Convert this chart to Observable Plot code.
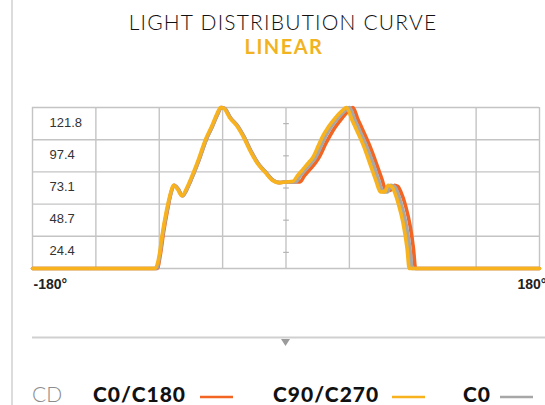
<!DOCTYPE html>
<html>
<head>
<meta charset="utf-8">
<script src="https://cdn.jsdelivr.net/npm/d3@7"></script>
<script src="https://cdn.jsdelivr.net/npm/@observablehq/plot@0.6"></script>
<style>
  html, body { margin: 0; padding: 0; background: #fff; }
  #wrap { position: relative; width: 545px; height: 405px; overflow: hidden; }
  #wrap > svg { position: absolute; left: 0; top: 0; }
</style>
</head>
<body>
<div id="wrap"></div>
<script>
// ---- data ----
const title = "LIGHT DISTRIBUTION CURVE";
const subtitle = "LINEAR";
const unitLabel = "CD";
const seriesNames = ["C0/C180", "C90/C270", "C0"];
const seriesColors = ["#f26522", "#f7b21e", "#a7a7a7"];

const yTicks = [0, 24.4, 48.7, 73.1, 97.4, 121.8];
const yTickLabels = ["", "24.4", "48.7", "73.1", "97.4", "121.8"];
const xTicks = [-180, -135, -90, -45, 0, 45, 90, 135, 180];
const xEndLabels = ["-180°", "180°"];

// C0/C180 (orange)
const c0c180Angle = [-180, -91.5, -89, -87, -84, -81.5, -79.5, -76.5, -73.5, -69.5, -65.5, -61.5, -56.5, -52.5, -48.5, -46, -43.5, -39.5, -34.5, -29.5, -24.5, -19.5, -14.5, -9.5, -4.5, 0, 5, 10, 13, 17, 21, 24, 28, 31, 35, 40, 44, 47.5, 51, 54, 59, 64, 68, 71, 74, 77, 79.5, 81.5, 85, 88, 90.5, 92, 180];
const c0c180Value = [0, 0, 12, 27, 45, 58, 63, 60, 55, 62, 72, 83, 98, 107, 117, 121.8, 121, 114, 108, 99, 88, 79, 73, 67, 65, 65.5, 65.5, 65.5, 70, 75, 80, 85, 94, 100, 107, 114, 119, 121.8, 113, 106, 94, 80, 68, 59, 59, 63, 62, 58, 47, 33, 15, 0, 0];

// C90/C270 (yellow)
const c90c270Angle = [-180, -93, -90, -88, -85, -82, -80, -77, -74, -70, -66, -62, -57, -53, -49, -46.5, -44, -40, -35, -30, -25, -20, -15, -10, -5, 0, 5, 8, 12, 16, 19, 23, 26, 30, 35, 39, 43, 47, 50, 55, 60, 64, 67, 70, 72.5, 75, 77, 80, 83, 86, 87.5, 180];
const c90c270Value = [0, 0, 10, 25, 43, 57, 63, 60, 55, 62, 72, 83, 98, 107, 117, 121.8, 121, 114, 108, 99, 88, 79, 73, 67, 65, 65.5, 66, 70, 75, 80, 84, 93, 100, 107, 114, 118.5, 121.8, 112, 105, 93, 78, 66, 58, 58, 63, 62, 58, 48, 35, 15, 0, 0];

// C0 (grey)
const c0Angle = [-180, -92, -89.5, -87.5, -84.5, -81.5, -79.5, -76.5, -73.5, -69.5, -65.5, -61.5, -56.5, -52.5, -48.5, -46, -43.5, -39.5, -34.5, -29.5, -24.5, -19.5, -14.5, -9.5, -4.5, 0, 7, 10, 14, 18, 21, 25, 28, 32, 37, 41, 45, 49, 52, 57, 62, 66, 69, 72, 74.5, 77, 79, 82, 85, 88, 89.5, 180];
const c0Value = [0, 0, 11, 26, 44, 57.5, 63, 60, 55, 62, 72, 83, 98, 107, 117, 121.8, 121, 114, 108, 99, 88, 79, 73, 67, 65, 65.5, 65.5, 70, 75, 80, 84, 93, 100, 107, 114, 118.5, 121.8, 112, 105, 93, 79, 66, 58, 58, 63, 62, 58, 48, 35, 15, 0, 0];

// ---- build table ----
const seriesAngles = [c0c180Angle, c90c270Angle, c0Angle];
const seriesValues = [c0c180Value, c90c270Value, c0Value];
const rows = [];
// draw order: orange, grey, yellow (yellow on top)
[0, 2, 1].forEach(i => {
  seriesAngles[i].forEach((a, j) => rows.push({series: seriesNames[i], angle: a, value: seriesValues[i][j]}));
});
const labelRows = yTicks.slice(1).map((v, i) => ({v, label: yTickLabels[i + 1]}));
const midRows = yTicks.slice(0, -1).map((v, i) => ({v: (v + yTicks[i + 1]) / 2}));
const dashSymbol = {draw(ctx, size) { const r = Math.sqrt(size) / 2; ctx.moveTo(-r, 0); ctx.lineTo(r, 0); }};

const W = 545, H = 300;
const gridColor = "#c4c4c4";
const chart = Plot.plot({
  width: W, height: H,
  marginLeft: 32, marginRight: 6, marginTop: 107, marginBottom: 32,
  x: {domain: [-180, 180], axis: null},
  y: {domain: [0, 121.8], axis: null},
  color: {domain: seriesNames, range: seriesColors},
  style: {fontFamily: "'Liberation Sans', Arial, sans-serif", background: "transparent", overflow: "visible"},
  marks: [
    Plot.ruleX(xTicks, {stroke: gridColor, strokeWidth: 1.4}),
    Plot.ruleY(yTicks, {stroke: gridColor, strokeWidth: 1.4}),
    Plot.dot(midRows, {x: () => 0, y: "v", symbol: dashSymbol, r: 3.2, stroke: "#b5b5b5", strokeWidth: 1.2, fill: "none"}),
    Plot.text(labelRows, {x: () => -180, y: "v", text: "label", textAnchor: "start", dx: 17, dy: 15, fontSize: 13, fill: "#333"}),
    Plot.line(rows, {x: "angle", y: "value", z: "series", stroke: "series", strokeWidth: 3.6, curve: "monotone-x", strokeLinejoin: "round", strokeLinecap: "round"}),
    Plot.text([xEndLabels[0]], {x: () => -180, y: () => 0, text: d => d, textAnchor: "start", dx: 1, dy: 16, fontSize: 14, fontWeight: "bold", fill: "#222"}),
    Plot.text([xEndLabels[1]], {x: () => 180, y: () => 0, text: d => d, textAnchor: "start", dx: -22, dy: 16, fontSize: 14, fontWeight: "bold", fill: "#222"})
  ]
});
const wrap = document.getElementById("wrap");
wrap.appendChild(chart);

// ---- overlay: title, separator, legend ----
const svg = d3.select(wrap).append("svg").attr("width", W).attr("height", 405).style("pointer-events", "none");
svg.append("line").attr("x1", 12).attr("x2", 12).attr("y1", 0).attr("y2", 405).attr("stroke", "#dcdcdc").attr("stroke-width", 2);
svg.append("text").attr("x", 283).attr("y", 29.5).attr("text-anchor", "middle")
  .attr("font-family", "Lato, sans-serif").attr("font-weight", 300).attr("font-size", 21).attr("letter-spacing", 1.2)
  .attr("fill", "#111").text(title);
svg.append("text").attr("x", 284).attr("y", 54).attr("text-anchor", "middle")
  .attr("font-family", "Lato, sans-serif").attr("font-weight", 700).attr("font-size", 20).attr("letter-spacing", 1.5)
  .attr("fill", "#f2b323").text(subtitle);
svg.append("line").attr("x1", 32).attr("x2", 545).attr("y1", 337.5).attr("y2", 337.5).attr("stroke", "#d0d0d0").attr("stroke-width", 2);
svg.append("path").attr("d", "M281,339 L290,339 L285.5,346 Z").attr("fill", "#9b9b9b");

svg.append("text").attr("x", 32).attr("y", 402).attr("font-family", "Lato, sans-serif").attr("font-weight", 300)
  .attr("font-size", 21).attr("fill", "#8c8c8c").text(unitLabel);
const legendX = [93, 273, 463];
const legendLine = [[200, 233], [392, 425], [500, 533]];
seriesNames.forEach((name, i) => {
  svg.append("text").attr("x", legendX[i]).attr("y", 402).attr("font-family", "Lato, sans-serif").attr("font-weight", 900)
    .attr("font-size", 21).attr("letter-spacing", 1).attr("fill", "#111").text(name);
  svg.append("line").attr("x1", legendLine[i][0]).attr("x2", legendLine[i][1]).attr("y1", 397).attr("y2", 397)
    .attr("stroke", seriesColors[i]).attr("stroke-width", 2.6);
});
</script>
</body>
</html>
